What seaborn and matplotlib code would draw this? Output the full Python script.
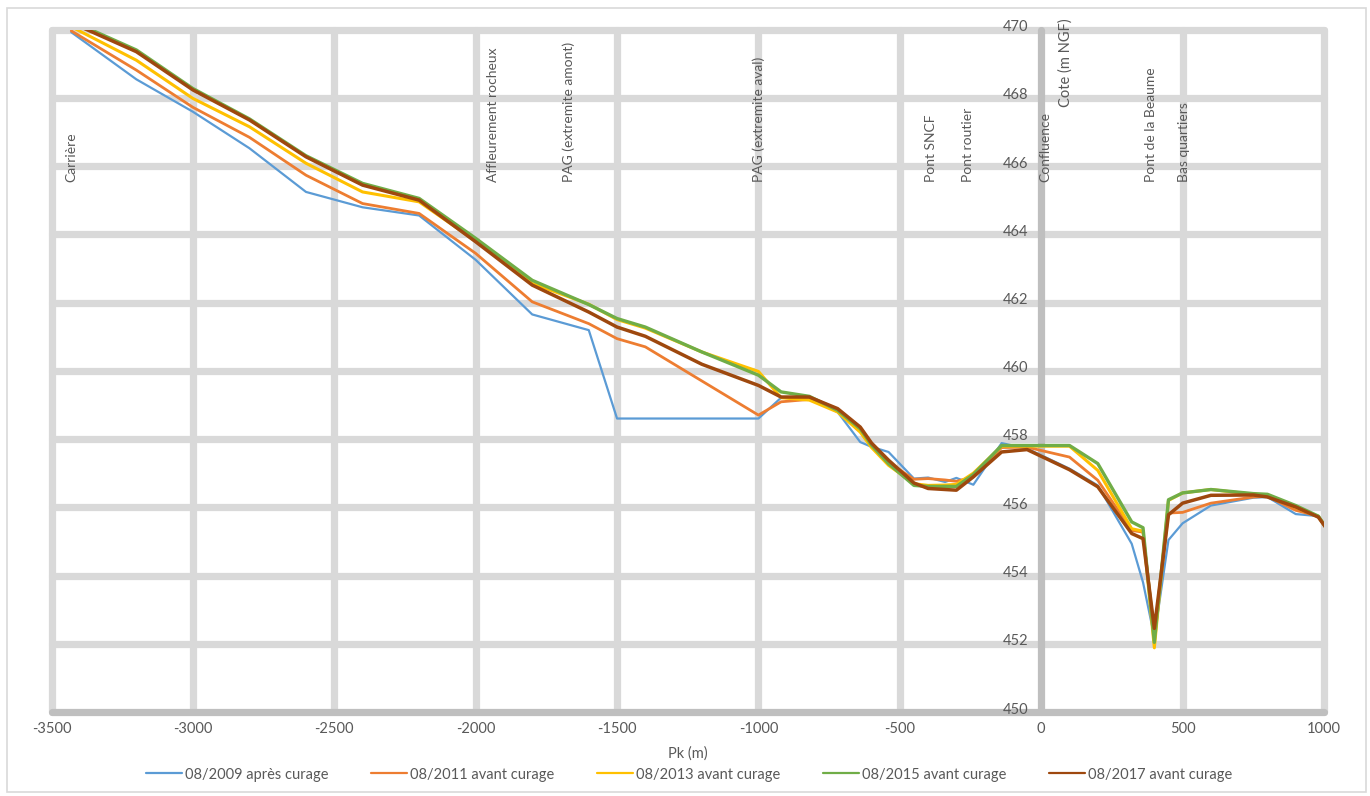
import matplotlib
matplotlib.use("Agg")
import matplotlib.pyplot as plt
from matplotlib.patches import Rectangle
from matplotlib.transforms import ScaledTranslation
import seaborn as sns
import pandas as pd

# ---------------- data ----------------
pk = [-3430, -3200, -3000, -2800, -2600, -2400, -2200, -2000, -1800, -1600,
      -1500, -1400, -1200, -1000, -920, -820, -720, -640, -600, -540,
      -450, -400, -340, -300, -240, -140, -50, 100, 200, 320,
      360, 400, 450, 500, 600, 750, 800, 900, 980, 1020]

s2009 = [469.92, 468.54, 467.59, 466.52, 465.24, 464.79, 464.55, 463.25, 461.65, 461.19,
         458.60, 458.60, 458.60, 458.60, 459.21, 459.21, 458.79, 457.91, 457.77, 457.62,
         456.84, 456.87, 456.74, 456.86, 456.66, 457.88, 457.72, 457.13, 456.64, 454.93,
         453.80, 452.20, 455.04, 455.53, 456.05, 456.28, 456.30, 455.80, 455.74, 455.25]
s2011 = [469.96, 468.81, 467.72, 466.84, 465.73, 464.90, 464.61, 463.44, 462.02, 461.38,
         460.94, 460.70, 459.70, 458.70, 459.09, 459.16, 458.84, 458.26, 457.80, 457.31,
         456.82, 456.84, 456.80, 456.76, 456.89, 457.75, 457.76, 457.47, 456.79, 455.32,
         455.27, 452.33, 455.83, 455.85, 456.12, 456.30, 456.32, 455.91, 455.74, 455.25]
s2013 = [470.08, 469.10, 467.98, 467.15, 466.08, 465.24, 464.95, 463.80, 462.56, 461.95,
         461.50, 461.25, 460.55, 459.98, 459.21, 459.14, 458.79, 458.20, 457.75, 457.23,
         456.69, 456.64, 456.65, 456.67, 457.00, 457.79, 457.79, 457.79, 457.08, 455.37,
         455.30, 451.88, 456.20, 456.42, 456.52, 456.38, 456.36, 456.00, 455.72, 455.25]
s2015 = [470.25, 469.40, 468.27, 467.38, 466.30, 465.49, 465.05, 463.88, 462.65, 461.94,
         461.53, 461.28, 460.55, 459.87, 459.38, 459.25, 458.84, 458.30, 457.82, 457.28,
         456.64, 456.61, 456.61, 456.61, 456.96, 457.81, 457.81, 457.81, 457.28, 455.57,
         455.40, 452.04, 456.22, 456.42, 456.52, 456.40, 456.38, 456.05, 455.74, 455.25]
s2017 = [470.20, 469.35, 468.23, 467.35, 466.27, 465.44, 465.00, 463.78, 462.51, 461.72,
         461.28, 461.01, 460.19, 459.57, 459.23, 459.23, 458.89, 458.35, 457.88, 457.38,
         456.71, 456.55, 456.52, 456.50, 456.89, 457.62, 457.69, 457.10, 456.60, 455.23,
         455.08, 452.45, 455.78, 456.12, 456.35, 456.36, 456.30, 456.01, 455.71, 455.25]

series_names = ["08/2009 après curage", "08/2011 avant curage", "08/2013 avant curage",
                "08/2015 avant curage", "08/2017 avant curage"]
series_values = [s2009, s2011, s2013, s2015, s2017]

site_labels = ["Carrière", "Affleurement rocheux", "PAG (extremite amont)",
               "PAG (extremite aval)", "Pont SNCF", "Pont routier", "Confluence",
               "Pont de la Beaume", "Bas quartiers"]
site_pk = [-3430, -1940, -1670, -1000, -390, -260, 15, 388, 505]

x_ticks = [-3500, -3000, -2500, -2000, -1500, -1000, -500, 0, 500, 1000]
y_ticks = [450, 452, 454, 456, 458, 460, 462, 464, 466, 468, 470]

# ---------------- styling ----------------
colors = ["#5B9BD5", "#ED7D31", "#FFC000", "#70AD47", "#9E480E"]
widths = [1.6, 2.0, 2.2, 2.4, 2.5]
text_color = "#595959"
grid_color = "#D9D9D9"
axis_color = "#BFBFBF"

sns.set_theme(style="white")
plt.rcParams["font.family"] = ["Lato", "DejaVu Sans"]
plt.rcParams["axes.unicode_minus"] = False

rows = []
for name, vals in zip(series_names, series_values):
    for x, y in zip(pk, vals):
        rows.append({"Pk": x, "Cote": y, "serie": name})
df = pd.DataFrame(rows)

fig = plt.figure(figsize=(13.7, 7.96), dpi=100)
ax = fig.add_axes([51.5 / 1370, 1 - 712 / 796, (1324 - 51.5) / 1370, (712 - 29.5) / 796])

sns.lineplot(data=df, x="Pk", y="Cote", hue="serie", size="serie",
             hue_order=series_names, palette=dict(zip(series_names, colors)),
             sizes=dict(zip(series_names, widths)), size_order=series_names,
             estimator=None, sort=False, legend=False, ax=ax, zorder=3)

ax.set_xlim(-3500, 1000)
ax.set_ylim(450, 470)
ax.set_xticks(x_ticks)
ax.set_yticks(y_ticks)
ax.grid(False)
ax.set_axisbelow(False)

# grid drawn as lines so that the edge lines keep their full width
for xv in x_ticks:
    if xv != 0:
        ax.axvline(xv, color=grid_color, linewidth=5.2, zorder=1, clip_on=False)
for yv in y_ticks:
    if yv != 450:
        ax.axhline(yv, color=grid_color, linewidth=5.2, zorder=1, clip_on=False)
ax.axvline(0, color=axis_color, linewidth=5.2, zorder=1.5, clip_on=False)
ax.axhline(450, color=axis_color, linewidth=5.2, zorder=1.5, clip_on=False)

for sp in ax.spines.values():
    sp.set_visible(False)
ax.spines["left"].set_position(("data", 0))

ax.tick_params(axis="both", length=0, labelsize=10.5, labelcolor=text_color)
ax.tick_params(axis="x", pad=7)
ax.tick_params(axis="y", pad=9)

fig.canvas.draw()
shift = ScaledTranslation(0, 4 / 100, fig.dpi_scale_trans)
for tick in ax.yaxis.get_major_ticks():
    tick.label1.set_transform(tick.label1.get_transform() + shift)

ax.set_xlabel("Pk (m)", fontsize=10.5, color=text_color, labelpad=8)
ax.set_ylabel("")

trans = ax.get_xaxis_transform()
for lab, xp in zip(site_labels, site_pk):
    ax.text(xp, 0.7766, lab, rotation=90, ha="center", va="bottom",
            fontsize=10, color=text_color, transform=trans, zorder=4)
ax.text(86, 0.951, "Cote (m NGF)", rotation=90, ha="center", va="center",
        fontsize=10.5, color=text_color, transform=trans, zorder=4)

handles = ax.get_lines()[:5]
leg = fig.legend(handles, series_names, loc="center", bbox_to_anchor=(0.503, 0.027),
                 ncol=5, frameon=False, fontsize=10.5, handlelength=2.5,
                 handletextpad=0.2, columnspacing=2.9)
for t in leg.get_texts():
    t.set_color(text_color)
for h in leg.legend_handles:
    h.set_linewidth(1.6)

fig.patches.append(Rectangle((6.5 / 1370, 4 / 796), (1366 - 6.5) / 1370, (788 - 4) / 796,
                             transform=fig.transFigure, fill=False,
                             edgecolor="#D9D9D9", linewidth=1.2))

fig.savefig("out.png", dpi=100, facecolor="white")
